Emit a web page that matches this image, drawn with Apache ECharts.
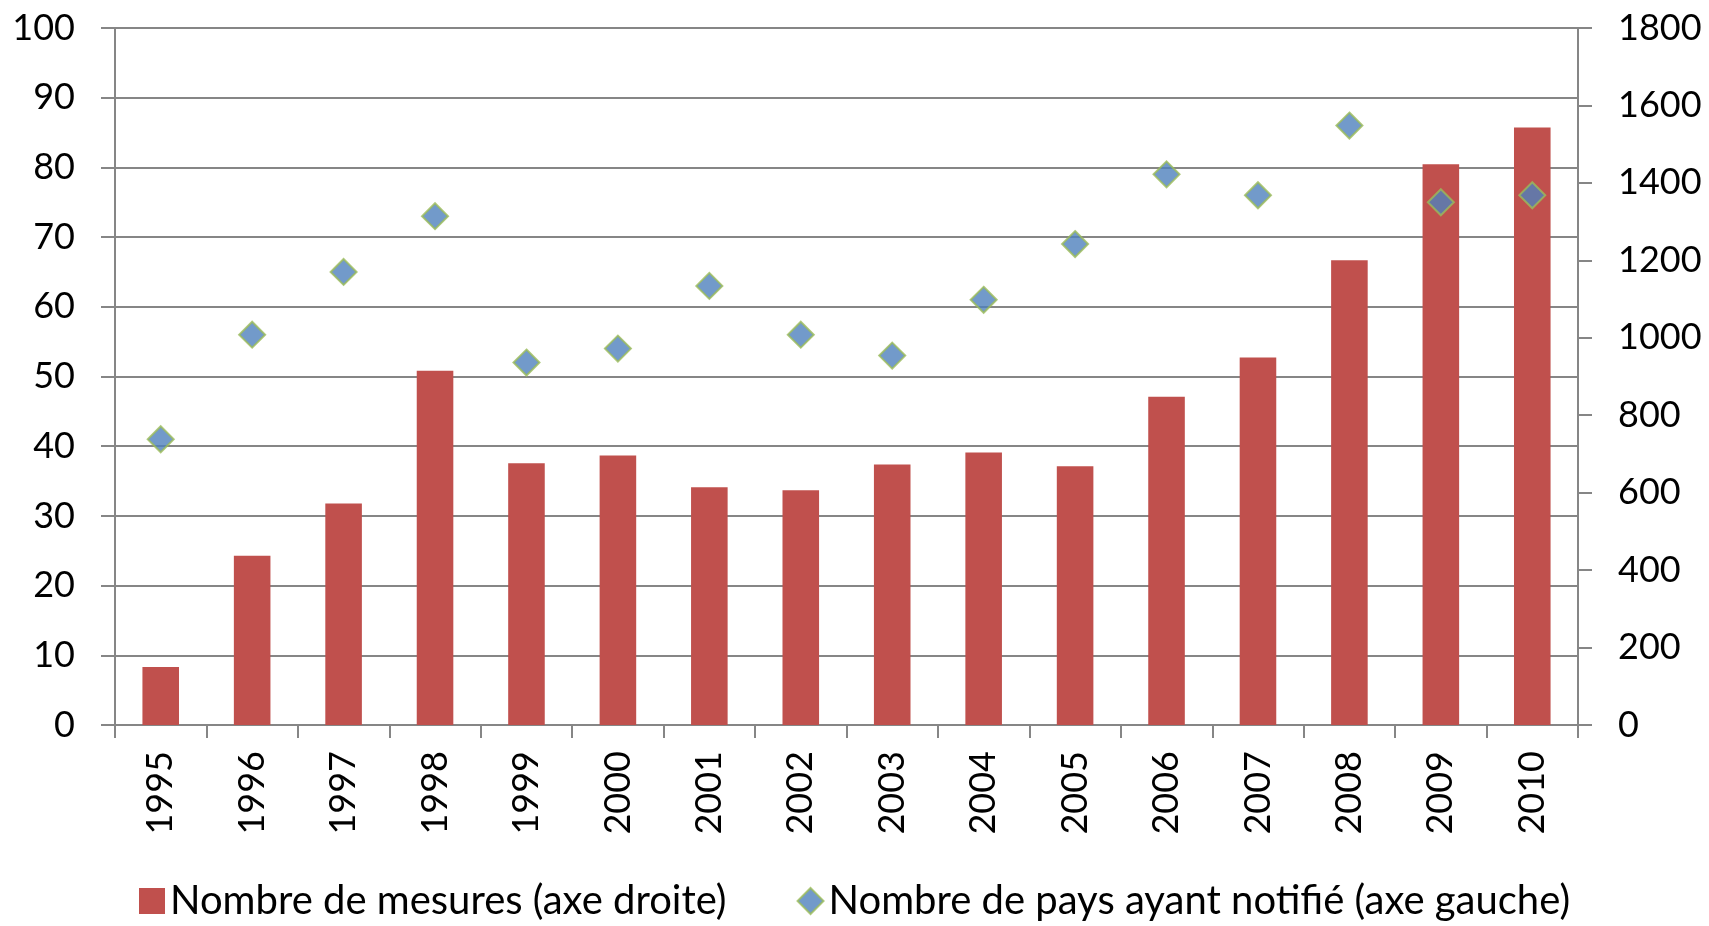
<!DOCTYPE html>
<html>
<head>
<meta charset="utf-8">
<script src="https://cdn.jsdelivr.net/npm/echarts@6/dist/echarts.min.js"></script>
<style>
  html, body { margin: 0; padding: 0; background: #fff; }
  #chart { width: 1709px; height: 926px; }
</style>
</head>
<body>
<div id="chart"></div>
<script>
var years = ['1995', '1996', '1997', '1998', '1999', '2000', '2001', '2002',
             '2003', '2004', '2005', '2006', '2007', '2008', '2009', '2010'];
// nombre de mesures (axe droite)
var mesures = [150, 437, 572, 915, 676, 696, 614, 606, 673, 704, 668, 848, 949, 1200, 1448, 1543];
// nombre de pays ayant notifié (axe gauche)
var pays = [41, 56, 65, 73, 52, 54, 63, 56, 53, 61, 69, 79, 76, 86, 75, 76];

var FONT = 'Lato';
var GRAY = '#868686';

var chart = echarts.init(document.getElementById('chart'));

var option = {
    animation: false,
    textStyle: { fontFamily: FONT, color: '#000' },
    grid: { left: 115, right: 131, top: 28, bottom: 201 },
    legend: {
        bottom: 0,
        left: 134,
        itemGap: 70,
        itemWidth: 26,
        itemHeight: 26,
        textStyle: { fontFamily: FONT, fontSize: 40, color: '#000' },
        data: [
            { name: 'Nombre de mesures (axe droite)', icon: 'rect', itemStyle: { color: '#C0504D' } },
            { name: 'Nombre de pays ayant notifié (axe gauche)', icon: 'diamond' }
        ]
    },
    xAxis: {
        type: 'category',
        data: years,
        boundaryGap: true,
        axisLine: { lineStyle: { color: GRAY, width: 2 } },
        axisTick: { show: true, length: 13, lineStyle: { color: GRAY, width: 2 } },
        axisLabel: { rotate: 90, fontSize: 36, margin: 26, color: '#000', fontFamily: FONT }
    },
    yAxis: [
        {
            type: 'value',
            min: 0, max: 100, interval: 10,
            position: 'left',
            axisLine: { show: true, lineStyle: { color: GRAY, width: 2 } },
            axisTick: { show: true, length: 14, lineStyle: { color: GRAY, width: 2 } },
            splitLine: { show: true, lineStyle: { color: GRAY, width: 2 } },
            axisLabel: { fontSize: 36, margin: 40, color: '#000', fontFamily: FONT }
        },
        {
            type: 'value',
            min: 0, max: 1800, interval: 200,
            position: 'right',
            axisLine: { show: true, lineStyle: { color: GRAY, width: 2 } },
            axisTick: { show: true, length: 14, lineStyle: { color: GRAY, width: 2 } },
            splitLine: { show: false },
            axisLabel: {
                fontSize: 36, margin: 40, color: '#000', fontFamily: FONT,
                formatter: function (v) { return String(v); }
            }
        }
    ],
    series: [
        {
            name: 'Nombre de mesures (axe droite)',
            type: 'bar',
            yAxisIndex: 1,
            barWidth: '40%',
            itemStyle: { color: '#C0504D' },
            data: mesures
        },
        {
            name: 'Nombre de pays ayant notifié (axe gauche)',
            type: 'scatter',
            yAxisIndex: 0,
            symbol: 'diamond',
            symbolSize: 26,
            itemStyle: { color: '#4F81BD', borderColor: '#9BBB59', borderWidth: 2 },
            data: pays
        }
    ]
};

chart.setOption(option);
</script>
</body>
</html>
